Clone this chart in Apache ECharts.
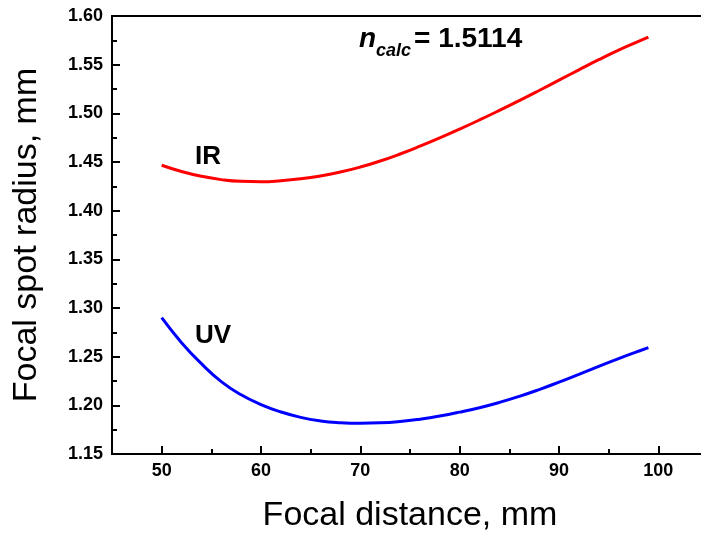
<!DOCTYPE html>
<html>
<head>
<meta charset="utf-8">
<script src="https://cdn.jsdelivr.net/npm/echarts@6/dist/echarts.min.js"></script>
<style>
html,body{margin:0;padding:0;background:#fff;}
#chart{width:701px;height:534px;}
</style>
</head>
<body>
<div id="chart"></div>
<script>
const focalDistance = [50, 52, 54, 56, 58, 60, 62, 64, 66, 68, 70, 72, 74, 76, 78, 80, 82, 84, 86, 88, 90, 92, 94, 96, 98, 99];
const irRadius = [1.4467, 1.4403, 1.4353, 1.4319, 1.4301, 1.4297, 1.4307, 1.4327, 1.4357, 1.4397, 1.4448, 1.4510, 1.4582, 1.4662, 1.4748, 1.4838, 1.4932, 1.5030, 1.5131, 1.5235, 1.5341, 1.5447, 1.5551, 1.5649, 1.5739, 1.5784];
const uvRadius = [1.2900, 1.2644, 1.2428, 1.2244, 1.2108, 1.2008, 1.1932, 1.1876, 1.1840, 1.1822, 1.1816, 1.1820, 1.1834, 1.1858, 1.1890, 1.1930, 1.1976, 1.2030, 1.2092, 1.2162, 1.2238, 1.2318, 1.2400, 1.2480, 1.2556, 1.2593];
const xMajorTicks = [50, 60, 70, 80, 90, 100];
const seriesNames = ['IR', 'UV'];
const xAxisName = 'Focal distance, mm';
const yAxisName = 'Focal spot radius, mm';

const FONT = "'Liberation Sans', Arial, sans-serif";
const chart = echarts.init(document.getElementById('chart'), null, {renderer: 'canvas'});

const option = {
  animation: false,
  backgroundColor: '#fff',
  grid: {
    left: 112, top: 16, right: -7, bottom: 80,
    show: true, borderColor: '#000', borderWidth: 2,
    outerBoundsMode: 'none'
  },
  xAxis: [{
    type: 'value', min: 45, max: 105, interval: 5,
    position: 'bottom',
    name: xAxisName, nameLocation: 'middle', nameGap: 45,
    nameTextStyle: {fontFamily: FONT, fontSize: 34, color: '#000'},
    axisLine: {show: true, lineStyle: {color: '#000', width: 2}},
    axisTick: {show: true, inside: true, length: 5, lineStyle: {color: '#000', width: 2}},
    axisLabel: {
      show: true, margin: 8, color: '#000', fontFamily: FONT, fontSize: 18, fontWeight: 'bold',
      formatter: v => (Math.abs(v % 10) < 1e-6 ? String(v) : ''),
      showMinLabel: true, showMaxLabel: true
    },
    splitLine: {show: false}
  }, {
    type: 'value', min: 45, max: 105,
    position: 'bottom',
    axisLine: {show: false},
    axisTick: {show: true, inside: true, length: 8, customValues: xMajorTicks, lineStyle: {color: '#000', width: 2}},
    axisLabel: {show: false},
    splitLine: {show: false}
  }],
  yAxis: {
    type: 'value', min: 1.15, max: 1.60, interval: 0.05,
    name: yAxisName, nameLocation: 'middle', nameGap: 68, nameRotate: 90,
    nameTextStyle: {fontFamily: FONT, fontSize: 34, color: '#000'},
    axisLine: {show: true, lineStyle: {color: '#000', width: 2}},
    axisTick: {show: true, inside: true, length: 8, lineStyle: {color: '#000', width: 2}},
    minorTick: {show: true, splitNumber: 2, length: 5, lineStyle: {color: '#000', width: 2}},
    axisLabel: {
      margin: 9, color: '#000', fontFamily: FONT, fontSize: 18, fontWeight: 'bold',
      formatter: v => v.toFixed(2)
    },
    splitLine: {show: false},
    minorSplitLine: {show: false}
  },
  series: [{
    name: seriesNames[0], type: 'line', xAxisIndex: 0, smooth: 0.5, showSymbol: false,
    lineStyle: {color: '#ff0000', width: 3},
    data: focalDistance.map((x, i) => [x, irRadius[i]])
  }, {
    name: seriesNames[1], type: 'line', xAxisIndex: 0, smooth: 0.5, showSymbol: false,
    lineStyle: {color: '#0000ff', width: 3},
    data: focalDistance.map((x, i) => [x, uvRadius[i]])
  }],
  graphic: [
    {type: 'text', left: 195, top: 144, style: {text: seriesNames[0], font: "bold 26px " + FONT, fill: '#000'}},
    {type: 'text', left: 195, top: 323, style: {text: seriesNames[1], font: "bold 26px " + FONT, fill: '#000'}},
    {type: 'text', left: 359, top: 25, style: {text: 'n', font: "italic bold 28px " + FONT, fill: '#000'}},
    {type: 'text', left: 376, top: 42, style: {text: 'calc', font: "italic bold 18px " + FONT, fill: '#000'}},
    {type: 'text', left: 414, top: 25, style: {text: '= 1.5114', font: "bold 28px " + FONT, fill: '#000'}}
  ]
};
chart.setOption(option);
</script>
</body>
</html>
